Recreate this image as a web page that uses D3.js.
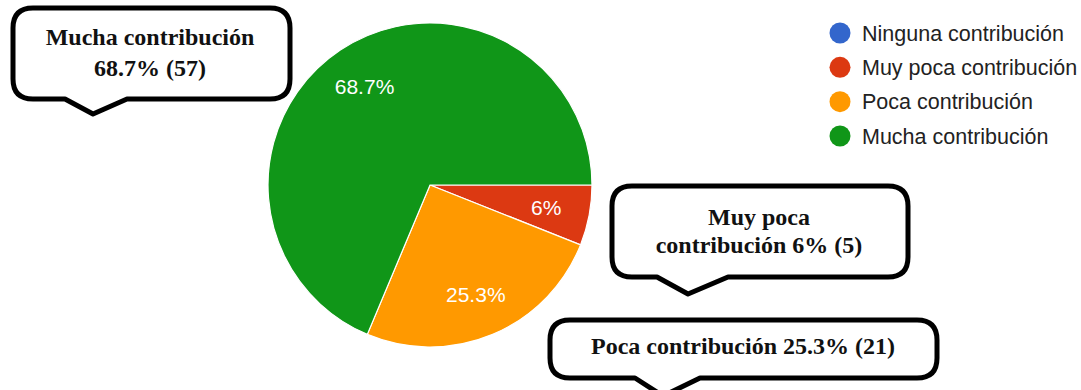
<!DOCTYPE html>
<html>
<head>
<meta charset="utf-8">
<script src="https://cdn.jsdelivr.net/npm/d3@7"></script>
<style>
  html, body { margin: 0; padding: 0; background: #fff; }
  svg { display: block; }
</style>
</head>
<body>
<svg id="chart" width="1081" height="390"></svg>
<script>
// Responses per category
const categories = ["Ninguna contribución", "Muy poca contribución", "Poca contribución", "Mucha contribución"];
const counts = [0, 5, 21, 57];
const percentLabels = ["0%", "6%", "25.3%", "68.7%"];
const colors = ["#3366cc", "#dc3912", "#ff9900", "#109618"];

// Callout texts (one line per entry)
const calloutLines = [
  ["Mucha contribución", "68.7% (57)"],
  ["Muy poca", "contribución 6% (5)"],
  ["Poca contribución 25.3% (21)"]
];

// Callout layout: box, tail base and tip, text centre and line baselines
const calloutBoxes = [
  { x0: 13, y0: 8, x1: 290, y1: 99, a: 65, b: 127, tx: 93, ty: 114, cx: 150, base: [45, 76] },
  { x0: 612, y0: 186, x1: 908, y1: 277, a: 657, b: 728, tx: 688, ty: 294, cx: 759, base: [225, 253] },
  { x0: 550, y0: 320, x1: 937, y1: 378, a: 635, b: 700, tx: 663, ty: 396, cx: 743, base: [354] }
];

const svg = d3.select("#chart");
const cx = 430, cy = 185, R = 162;

const pie = d3.pie()
  .sort(null)
  .value(d => d)
  .startAngle(Math.PI / 2)
  .endAngle(Math.PI / 2 + 2 * Math.PI);

const arc = d3.arc().innerRadius(0).outerRadius(R);
const labelArc = d3.arc().innerRadius(R * 0.73).outerRadius(R * 0.73);

const arcs = pie(counts);
const g = svg.append("g").attr("transform", `translate(${cx},${cy})`);

g.selectAll("path.slice")
  .data(arcs.filter(d => d.value > 0))
  .join("path")
  .attr("class", "slice")
  .attr("d", arc)
  .attr("fill", d => colors[d.index])
  .attr("stroke", "#fff")
  .attr("stroke-width", 1.2);

g.selectAll("text.pct")
  .data(arcs.filter(d => d.value > 0))
  .join("text")
  .attr("class", "pct")
  .attr("transform", d => `translate(${labelArc.centroid(d)})`)
  .attr("text-anchor", "middle")
  .attr("dy", "0.36em")
  .attr("fill", "#fff")
  .style("font-family", "Arial, 'Liberation Sans', sans-serif")
  .style("font-size", "21px")
  .text(d => percentLabels[d.index]);

// Legend
const ly = d3.scalePoint().domain(categories).range([33, 136]);
const legend = svg.append("g");
const items = legend.selectAll("g")
  .data(categories)
  .join("g")
  .attr("transform", d => `translate(840,${ly(d)})`);
items.append("circle")
  .attr("r", 10.5)
  .attr("fill", (d, i) => colors[i]);
items.append("text")
  .attr("x", 22)
  .attr("dy", "0.36em")
  .attr("fill", "#222")
  .style("font-family", "Arial, 'Liberation Sans', sans-serif")
  .style("font-size", "21.5px")
  .text(d => d);

// Speech-bubble callouts
function bubblePath(c) {
  const r = 20;
  const p = d3.path();
  p.moveTo(c.x0 + r, c.y0);
  p.lineTo(c.x1 - r, c.y0);
  p.quadraticCurveTo(c.x1, c.y0, c.x1, c.y0 + r);
  p.lineTo(c.x1, c.y1 - r);
  p.quadraticCurveTo(c.x1, c.y1, c.x1 - r, c.y1);
  p.lineTo(c.b, c.y1);
  p.lineTo(c.tx, c.ty);
  p.lineTo(c.a, c.y1);
  p.lineTo(c.x0 + r, c.y1);
  p.quadraticCurveTo(c.x0, c.y1, c.x0, c.y1 - r);
  p.lineTo(c.x0, c.y0 + r);
  p.quadraticCurveTo(c.x0, c.y0, c.x0 + r, c.y0);
  p.closePath();
  return p.toString();
}

const callouts = svg.selectAll("g.callout")
  .data(calloutBoxes)
  .join("g")
  .attr("class", "callout");

callouts.append("path")
  .attr("d", bubblePath)
  .attr("fill", "#fff")
  .attr("stroke", "#000")
  .attr("stroke-width", 5)
  .attr("stroke-linejoin", "round");

callouts.each(function (c, i) {
  d3.select(this).selectAll("text")
    .data(calloutLines[i])
    .join("text")
    .attr("x", c.cx)
    .attr("y", (t, j) => c.base[j])
    .attr("text-anchor", "middle")
    .attr("fill", "#111")
    .style("font-family", "'Liberation Serif', 'Times New Roman', serif")
    .style("font-weight", "bold")
    .style("font-size", "24px")
    .text(t => t);
});
</script>
</body>
</html>
